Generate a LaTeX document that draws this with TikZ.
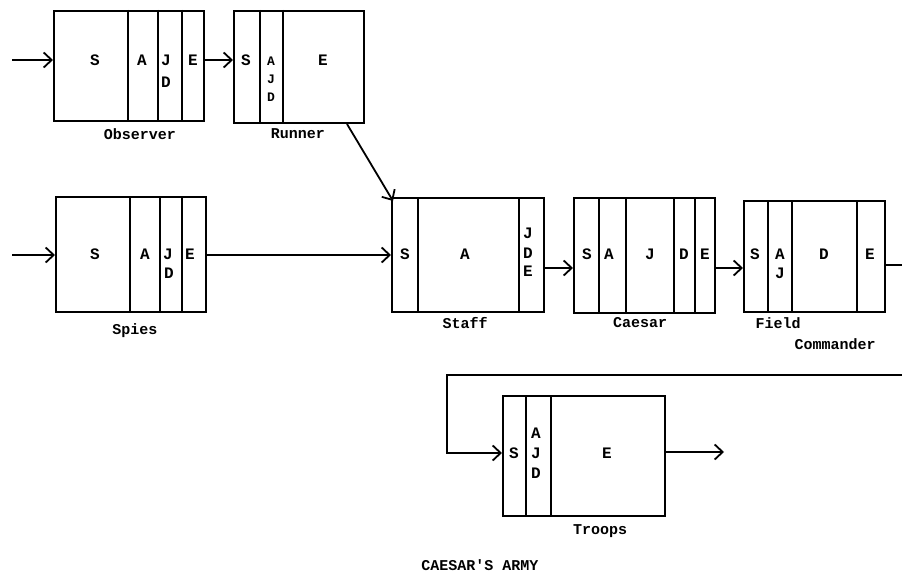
\documentclass[tikz,border=0pt]{standalone}
\usepackage{fontspec}
\newfontfamily\tw{Liberation Mono}
\usetikzlibrary{arrows.meta}
\begin{document}
\begin{tikzpicture}[x=1pt,y=-1pt,
  box/.style={draw,line width=2pt,inner sep=0pt,anchor=north west},
  div/.style={line width=1.8pt},
  ltr/.style={font=\tw\bfseries\fontsize{16}{18}\selectfont,inner sep=0pt},
  lbl/.style={font=\tw\bfseries\fontsize{15}{18}\selectfont,inner sep=0pt},
  arr/.style={line width=1.8pt,-{Straight Barb[length=8pt,width=15pt,line width=1.8pt]}},
  lin/.style={line width=1.8pt}]
\useasboundingbox (0,0) rectangle (902,578);
% Observer
\node[box,minimum width=150pt,minimum height=110pt] (obs) at (53,10) {};
\draw[div] (128,10) -- (128,120) (158,10) -- (158,120) (182,10) -- (182,120);
\node[ltr] (o1) at (95,60) {S};
\node[ltr] (o2) at (142,60) {A};
\node[ltr] (o3) at (166,60) {J};
\node[ltr] (o4) at (166,82) {D};
\node[ltr] (o5) at (193,60) {E};
\node[lbl] (obsl) at (140,134) {Observer};
% Runner
\node[box,minimum width=130pt,minimum height=112pt] (run) at (233,10) {};
\draw[div] (260,10) -- (260,122) (283,10) -- (283,122);
\node[ltr] (r1) at (246,60) {S};
\node[ltr,font=\tw\bfseries\fontsize{13}{14}\selectfont] (r2) at (271,61) {A};
\node[ltr,font=\tw\bfseries\fontsize{13}{14}\selectfont] (r3) at (271,79) {J};
\node[ltr,font=\tw\bfseries\fontsize{13}{14}\selectfont] (r4) at (271,97) {D};
\node[ltr] (r5) at (323,60) {E};
\node[lbl] (runl) at (298,134) {Runner};
% Spies
\node[box,minimum width=150pt,minimum height=115pt] (spi) at (55,196) {};
\draw[div] (130,196) -- (130,311) (160,196) -- (160,311) (182,196) -- (182,311);
\node[ltr] (s1) at (95,254) {S};
\node[ltr] (s2) at (145,254) {A};
\node[ltr] (s3) at (168,254) {J};
\node[ltr] (s4) at (169,273) {D};
\node[ltr] (s5) at (190,254) {E};
\node[lbl] (spil) at (135,331) {Spies};
% Staff
\node[box,minimum width=152pt,minimum height=114pt] (sta) at (391,197) {};
\draw[div] (418,197) -- (418,311) (519,197) -- (519,311);
\node[ltr] (t1) at (405,254) {S};
\node[ltr] (t2) at (465,254) {A};
\node[ltr] (t3) at (528,233) {J};
\node[ltr] (t4) at (528,253) {D};
\node[ltr] (t5) at (528,271) {E};
\node[lbl] (stal) at (465,323) {Staff};
% Caesar
\node[box,minimum width=141pt,minimum height=115pt] (cae) at (573,197) {};
\draw[div] (599,197) -- (599,312) (626,197) -- (626,312) (674,197) -- (674,312) (695,197) -- (695,312);
\node[ltr] (c1) at (587,254) {S};
\node[ltr] (c2) at (609,254) {A};
\node[ltr] (c3) at (650,254) {J};
\node[ltr] (c4) at (684,254) {D};
\node[ltr] (c5) at (705,254) {E};
\node[lbl] (cael) at (640,323) {Caesar};
% Field Commander
\node[box,minimum width=141pt,minimum height=111pt] (fc) at (743,200) {};
\draw[div] (768,200) -- (768,311) (792,200) -- (792,311) (857,200) -- (857,311);
\node[ltr] (f1) at (755,254) {S};
\node[ltr] (f2) at (780,254) {A};
\node[ltr] (f3) at (780,273) {J};
\node[ltr] (f4) at (824,254) {D};
\node[ltr] (f5) at (870,254) {E};
\node[lbl] (fcl1) at (778,323) {Field};
\node[lbl] (fcl2) at (835,344) {Commander};
% Troops
\node[box,minimum width=162pt,minimum height=120pt] (tro) at (502,395) {};
\draw[div] (526,395) -- (526,515) (551,395) -- (551,515);
\node[ltr] (p1) at (514,453) {S};
\node[ltr] (p2) at (536,433) {A};
\node[ltr] (p3) at (536,453) {J};
\node[ltr] (p4) at (536,473) {D};
\node[ltr] (p5) at (607,453) {E};
\node[lbl] (trol) at (600,531) {Troops};
% caption
\node[lbl] (cap) at (480,565) {CAESAR'S ARMY};
% connectors
\coordinate (in1) at (12,60);
\coordinate (in2) at (12,255);
\draw[arr] (in1) -- (in1 -| obs.west);
\draw[arr] (in2) -- (in2 -| spi.west);
\draw[arr] (obs.east |- 0,60) -- (run.west |- 0,60);
\draw[arr] (spi.east |- 0,255) -- (sta.west |- 0,255);
\draw[arr] ([xshift=-18pt]run.south east) -- ([xshift=2pt,yshift=-4pt]sta.north west);
\draw[arr] (sta.east |- 0,268) -- (cae.west |- 0,268);
\draw[arr] (cae.east |- 0,268) -- (fc.west |- 0,268);
\coordinate (fcout) at (902,265);
\draw[lin] (fc.east |- fcout) -- (fcout);
\coordinate (loopin) at (902,375);
\coordinate (loopc) at (447,375);
\draw[arr] (loopin) -- (loopc) -- (loopc |- 0,453) -- (tro.west |- 0,453);
\coordinate (trout) at (724,452);
\draw[arr] (tro.east |- trout) -- (trout);
\end{tikzpicture}
\end{document}
